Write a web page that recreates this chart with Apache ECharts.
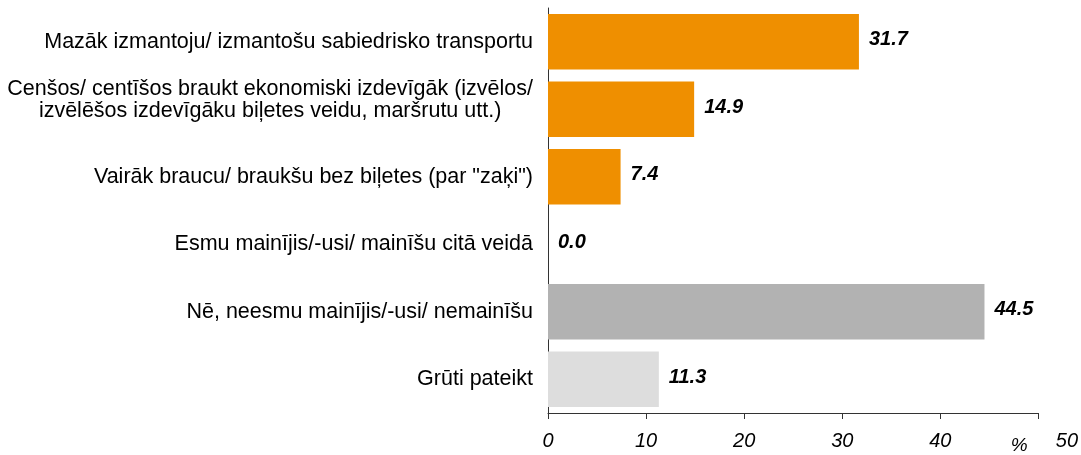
<!DOCTYPE html>
<html>
<head>
<meta charset="utf-8">
<script src="https://cdn.jsdelivr.net/npm/echarts@6/dist/echarts.min.js"></script>
<style>
    html, body {margin: 0; padding: 0; background: #fff;}
    #main {width: 1081px; height: 455px;}
</style>
</head>
<body>
<div id="main"></div>
<script>
const categories = [
    'Mazāk izmantoju/ izmantošu sabiedrisko transportu',
    'Cenšos/ centīšos braukt ekonomiski izdevīgāk (izvēlos/\nizvēlēšos izdevīgāku biļetes veidu, maršrutu utt.)',
    'Vairāk braucu/ braukšu bez biļetes (par "zaķi")',
    'Esmu mainījis/-usi/ mainīšu citā veidā',
    'Nē, neesmu mainījis/-usi/ nemainīšu',
    'Grūti pateikt'
]
const values = [31.7, 14.9, 7.4, 0.0, 44.5, 11.3]
const barColors = ['#EF8F00', '#EF8F00', '#EF8F00', '#EF8F00', '#B2B2B2', '#DDDDDD']
const xTicks = [0, 10, 20, 30, 40, 50]

const font = '"Liberation Sans", Arial, sans-serif'

const chartDom = document.getElementById('main');
const myChart = echarts.init(chartDom);
let option;

option = {
    animation: false,
    grid: {
        left: 548,
        right: 42,
        top: 8,
        bottom: 39,
        containLabel: false
    },
    xAxis: {
        type: 'value',
        min: xTicks[0],
        max: xTicks[xTicks.length - 1],
        interval: 10,
        splitLine: {show: false},
        axisLine: {show: true, lineStyle: {color: '#333', width: 1}},
        axisTick: {show: true, length: 6, lineStyle: {color: '#333'}},
        axisLabel: {
            margin: 18,
            color: '#000',
            fontFamily: font,
            fontSize: 20,
            fontStyle: 'italic',
            // the last label carries the unit sign in front of it
            formatter: v => v === 50 ? '{g|}{p|%}{s|}{v|50}' : String(v),
            rich: {
                g: {width: 12},
                p: {fontFamily: font, fontSize: 19, fontStyle: 'italic', color: '#000', padding: [5, 0, 0, 0]},
                s: {width: 28},
                v: {fontFamily: font, fontSize: 20, fontStyle: 'italic', color: '#000', verticalAlign: 'top'}
            }
        }
    },
    yAxis: {
        type: 'category',
        inverse: true,
        data: categories,
        axisLine: {show: true, lineStyle: {color: '#333', width: 1}},
        axisTick: {show: false},
        axisLabel: {
            margin: 15,
            color: '#000',
            fontFamily: font,
            fontSize: 21.5,
            formatter: v => {
                if (v.indexOf('\n') < 0) return v
                const lines = v.split('\n')
                return '{a|' + lines[0] + '}\n{c|' + lines[1] + '}\n{e|}'
            },
            rich: {
                a: {fontFamily: font, fontSize: 21.5, lineHeight: 22, color: '#000'},
                c: {fontFamily: font, fontSize: 21.5, lineHeight: 22, color: '#000', align: 'center'},
                e: {fontSize: 10, lineHeight: 18}
            }
        }
    },
    series: [{
        type: 'bar',
        barCategoryGap: '18%',
        data: values.map((v, i) => ({value: v, itemStyle: {color: barColors[i]}})),
        label: {
            show: true,
            position: 'right',
            distance: 10,
            offset: [0, -2],
            color: '#000',
            fontFamily: font,
            fontSize: 20,
            fontWeight: 'bold',
            fontStyle: 'italic',
            formatter: p => p.value.toFixed(1)
        }
    }]
};

option && myChart.setOption(option);
</script>
</body>
</html>
